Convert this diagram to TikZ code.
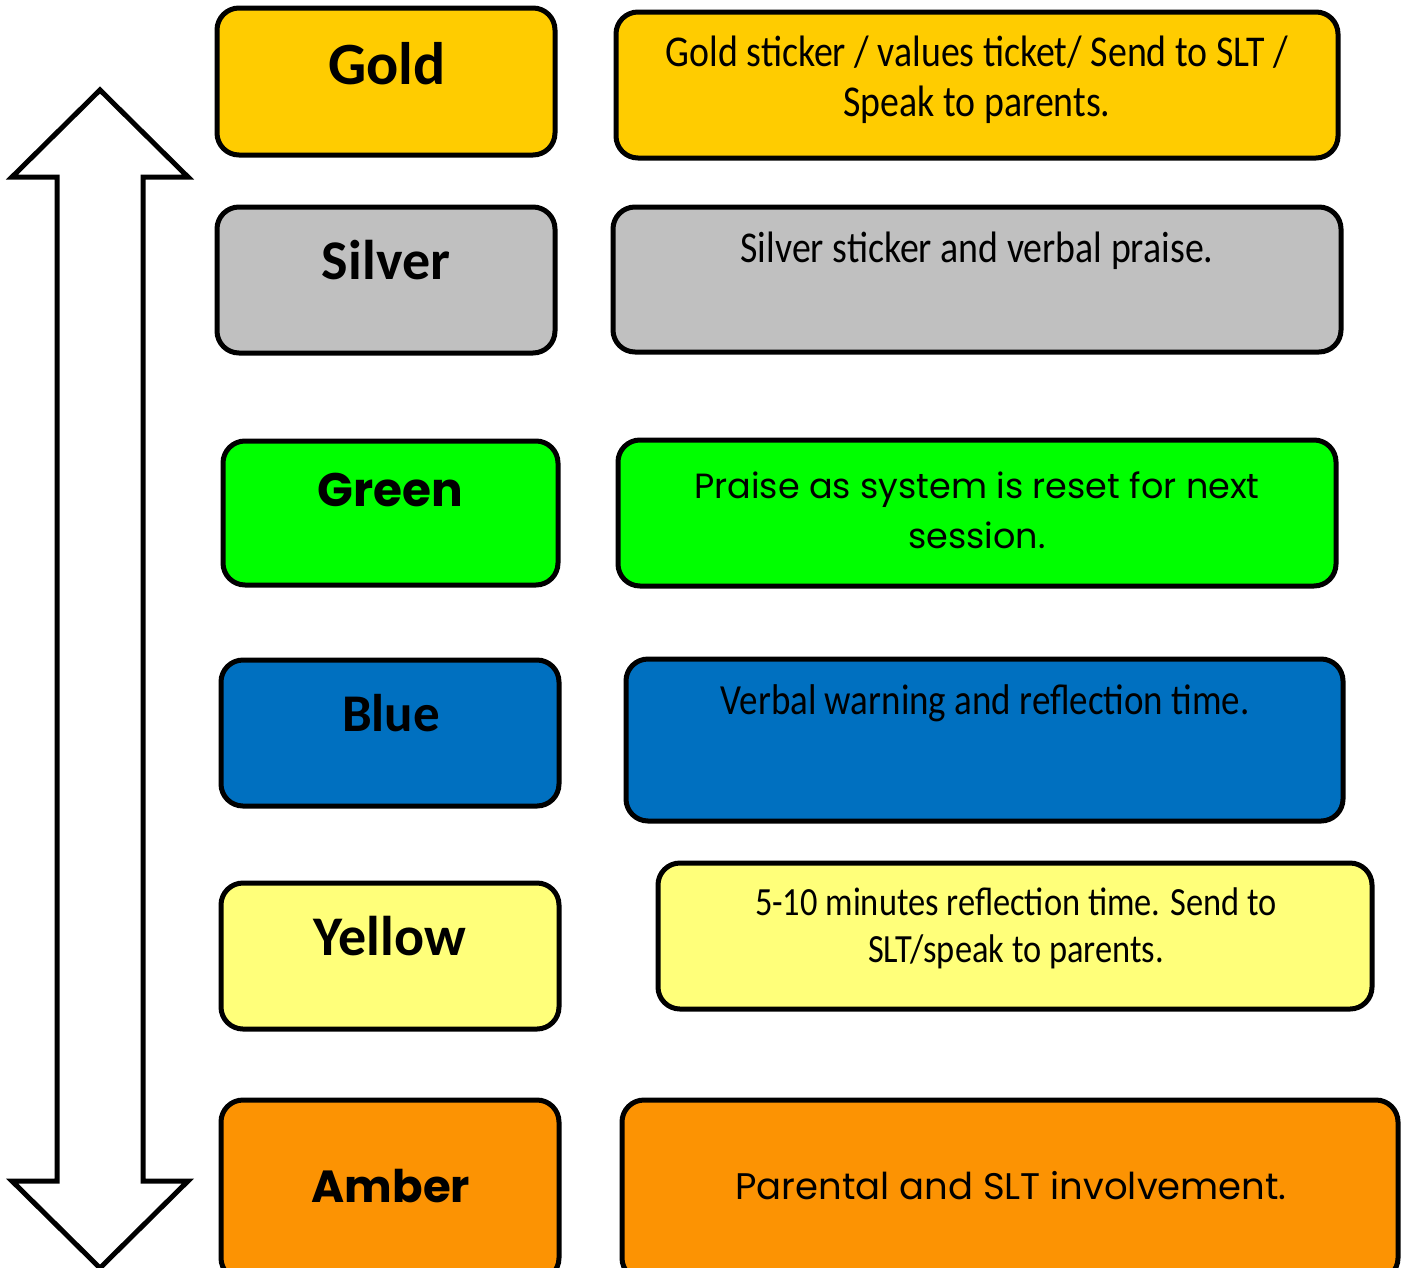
\documentclass[tikz,border=0pt]{standalone}
\usepackage{fontspec}
\newfontfamily\sass[FakeStretch=0.86]{Carlito}
\newfontfamily\sasstitle{Carlito}
\newfontfamily\geo{Poppins}
\definecolor{cgold}{HTML}{FFCC00}
\definecolor{csilver}{HTML}{C0C0C0}
\definecolor{cgreen}{HTML}{00FF00}
\definecolor{cblue}{HTML}{0070C0}
\definecolor{cyellow}{HTML}{FFFF7A}
\definecolor{camber}{HTML}{FC9303}
\tikzset{
  lbox/.style={draw=black, line width=5pt, rounded corners=22pt, minimum width=#1, inner sep=0pt},
  ttl/.style={font=\sasstitle\bfseries\fontsize{56}{60}\selectfont, inner sep=0pt},
  gttl/.style={font=\geo\bfseries\fontsize{47}{56}\selectfont, inner sep=0pt},
  dsc/.style={font=\sass\fontsize{44}{50}\selectfont, align=center, inner sep=0pt},
  gdsc/.style={font=\geo\fontsize{35}{50}\selectfont, align=center, inner sep=0pt},
}
\begin{document}
\begin{tikzpicture}[x=1pt,y=-1pt]
\useasboundingbox (0,0) rectangle (1408,1267);
% double arrow
\draw[line width=5pt, fill=white, line join=miter] (100,90) -- (188,177) -- (143,177) -- (143,1181) -- (188,1181) -- (100,1268) -- (12,1181) -- (57,1181) -- (57,177) -- (12,177) -- cycle;
% left boxes
\node[lbox=338pt, minimum height=147pt, fill=cgold] (goldL) at (386,81.5) {};
\node[ttl, font=\sasstitle\bfseries\fontsize{60}{60}\selectfont] (goldLt) at (387,64) {Gold};
\node[lbox=338pt, minimum height=146pt, fill=csilver] (silverL) at (386,280) {};
\node[ttl] (silverLt) at (386,260) {Silver};
\node[lbox=335pt, minimum height=144pt, fill=cgreen] (greenL) at (390.5,513) {};
\node[gttl] (greenLt) at (390,490) {Green};
\node[lbox=338pt, minimum height=146pt, fill=cblue] (blueL) at (390,733) {};
\node[ttl, font=\sasstitle\bfseries\fontsize{53}{60}\selectfont] (blueLt) at (391,713) {Blue};
\node[lbox=338pt, minimum height=146pt, fill=cyellow] (yellowL) at (390,956) {};
\node[ttl] (yellowLt) at (390,936) {Yellow};
\node[lbox=338pt, minimum height=180pt, fill=camber] (amberL) at (390,1190) {};
\node[gttl, font=\geo\bfseries\fontsize{45}{56}\selectfont] (amberLt) at (391,1186) {Amber};
% right boxes
\node[lbox=722pt, minimum height=146pt, fill=cgold] (goldR) at (977,85) {};
\node[dsc] (goldRt) at (977,80) {Gold sticker / values ticket/ Send to SLT /\\Speak to parents.};
\node[lbox=728pt, minimum height=145pt, fill=csilver] (silverR) at (977,279.5) {};
\node[dsc] (silverRt) at (977,251) {Silver sticker and verbal praise.};
\node[lbox=718pt, minimum height=146pt, fill=cgreen] (greenR) at (977,513) {};
\node[gdsc] (greenRt) at (977,510) {Praise as system is reset for next\\session.};
\node[lbox=717pt, minimum height=162pt, fill=cblue] (blueR) at (984.5,740) {};
\node[dsc, font=\sass\fontsize{43}{50}\selectfont] (blueRt) at (985,703) {Verbal warning and reflection time.};
\node[lbox=714pt, minimum height=146pt, fill=cyellow] (yellowR) at (1015,936) {};
\node[dsc, font=\sass\fontsize{40}{47}\selectfont] (yellowRt) at (1016,928) {5-10 minutes reflection time. Send to\\SLT/speak to parents.};
\node[lbox=776pt, minimum height=180pt, fill=camber] (amberR) at (1010,1190) {};
\node[gdsc, font=\geo\fontsize{37}{50}\selectfont] (amberRt) at (1011,1186) {Parental and SLT involvement.};
\end{tikzpicture}
\end{document}
